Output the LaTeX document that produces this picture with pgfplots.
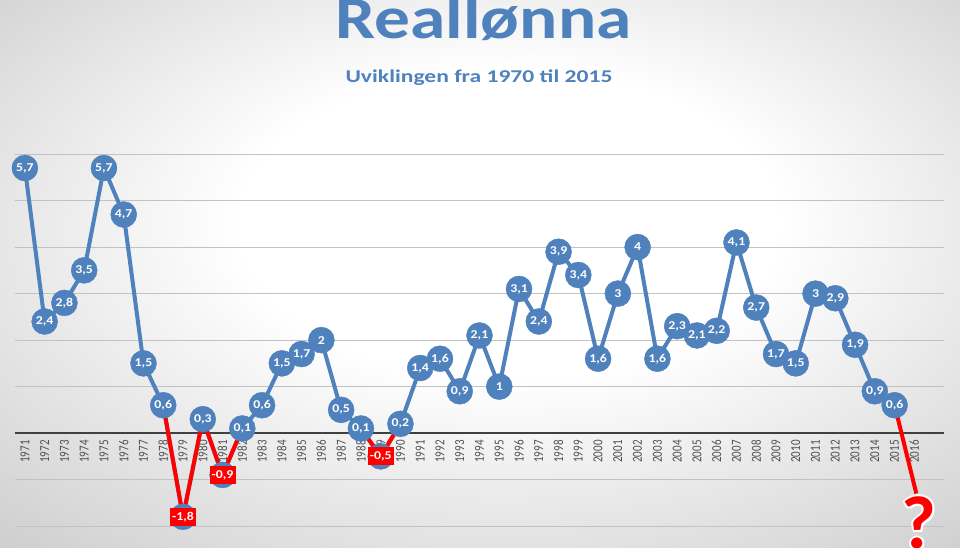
\documentclass[border=0pt]{standalone}
\usepackage{fontspec}
\setmainfont{Carlito}
\usepackage{pgfplots}
\usepackage{pgfplotstable}
\pgfplotsset{compat=1.18}
\definecolor{oblue}{HTML}{4F81BD}
\definecolor{tgray}{HTML}{505050}
\definecolor{zline}{HTML}{404040}
\pgfdeclareradialshading{bgshade}{\pgfpoint{2bp}{6bp}}{color(0bp)=(white); color(14bp)=(white); color(46bp)=(black!26); color(60bp)=(black!30)}

\pgfplotstableread{
year val lab
1971 5.7 5,7
1972 2.4 2,4
1973 2.8 2,8
1974 3.5 3,5
1975 5.7 5,7
1976 4.7 4,7
1977 1.5 1,5
1978 0.6 0,6
1979 -1.8 -1,8
1980 0.3 0,3
1981 -0.9 -0,9
1982 0.1 0,1
1983 0.6 0,6
1984 1.5 1,5
1985 1.7 1,7
1986 2 2
1987 0.5 0,5
1988 0.1 0,1
1989 -0.5 -0,5
1990 0.2 0,2
1991 1.4 1,4
1992 1.6 1,6
1993 0.9 0,9
1994 2.1 2,1
1995 1 1
1996 3.1 3,1
1997 2.4 2,4
1998 3.9 3,9
1999 3.4 3,4
2000 1.6 1,6
2001 3 3
2002 4 4
2003 1.6 1,6
2004 2.3 2,3
2005 2.1 2,1
2006 2.2 2,2
2007 4.1 4,1
2008 2.7 2,7
2009 1.7 1,7
2010 1.5 1,5
2011 3 3
2012 2.9 2,9
2013 1.9 1,9
2014 0.9 0,9
2015 0.6 0,6
}\datatab

\pgfplotstableread{
year val lab
1979 -1.8 -1,8
1981 -0.9 -0,9
1989 -0.5 -0,5
}\negtab

\begin{document}
\begin{tikzpicture}[x=1pt,y=1pt]
\path[use as bounding box] (0,0) rectangle (960,548);
\clip (0,0) rectangle (960,548);
\shade[shading=bgshade] (0,0) rectangle (960,548);
\node[anchor=base, text=oblue, font=\fontsize{60}{60}\selectfont\bfseries, inner sep=0pt] at (483.5,509) {\scalebox{1.19}[1]{Reallønna}};
\node[anchor=base, text=oblue, font=\fontsize{18}{18}\selectfont\bfseries, inner sep=0pt] at (479,465) {\scalebox{1.31}[1]{Uviklingen fra 1970 til 2015}};
\begin{axis}[
  at={(15pt,0pt)}, anchor=south west,
  scale only axis, width=929pt, height=393.9pt,
  xmin=1970.5, xmax=2017.5, ymin=-2.47, ymax=6,
  clip=false,
  axis x line=middle, axis y line=left,
  axis line style={draw=none},
  major tick length=0pt,
  ytick={-2,-1,1,2,3,4,5,6}, yticklabels={},
  ymajorgrids,
  grid style={black!24, line width=1.1pt},
  extra y ticks={0}, extra y tick labels={},
  extra y tick style={grid style={zline, line width=2.7pt}},
  xtick={1971,...,2016},
  xticklabel={\scalebox{1}[1.25]{\pgfmathprintnumber[assume math mode=true,1000 sep={}]{\tick}}},
  xticklabel style={rotate=90, anchor=east, inner sep=0pt, text=tgray, xshift=-7pt,
    font=\fontsize{11}{12}\selectfont},
]
\addplot[oblue, line width=4pt, line join=round, mark=none] table[x=year,y=val]{\datatab};
\addplot[red, line width=4pt, mark=none] coordinates {(1978,0.6)(1979,-1.8)(1980,0.3)(1981,-0.9)(1982,0.1)};
\addplot[red, line width=4pt, mark=none] coordinates {(1988,0.1)(1989,-0.5)(1990,0.2)};
\addplot[red, line width=4pt, mark=none] coordinates {(2015,0.6)(2016.1,-1.3)};
\addplot[oblue, only marks, mark=*, mark size=13pt, mark options={fill=oblue, draw=none},
  nodes near coords={\scalebox{1.15}[1]{\pgfplotspointmeta}}, point meta=explicit symbolic,
  nodes near coords style={anchor=center, text=white, inner sep=0pt,
    font=\fontsize{12}{12}\selectfont\bfseries}]
  table[x=year,y=val,meta=lab]{\datatab};
\addplot[draw=none, mark=none,
  nodes near coords={\scalebox{1.15}[1]{\pgfplotspointmeta}}, point meta=explicit symbolic,
  nodes near coords style={anchor=center, fill=red, text=white, inner sep=0pt,
    minimum width=26pt, minimum height=18pt,
    font=\fontsize{12}{12}\selectfont\bfseries}]
  table[x=year,y=val,meta=lab]{\negtab};
\end{axis}
\foreach \dx/\dy in {2/0,-2/0,0/2,0/-2,1.4/1.4,-1.4/1.4,1.4/-1.4,-1.4/-1.4}
  \node[anchor=base, inner sep=0pt, text=white, font=\fontsize{75}{75}\selectfont\bfseries] at (919+\dx,-1+\dy) {?};
\node[anchor=base, inner sep=0pt, text=red, font=\fontsize{75}{75}\selectfont\bfseries] at (919,-1) {?};
\end{tikzpicture}
\end{document}
